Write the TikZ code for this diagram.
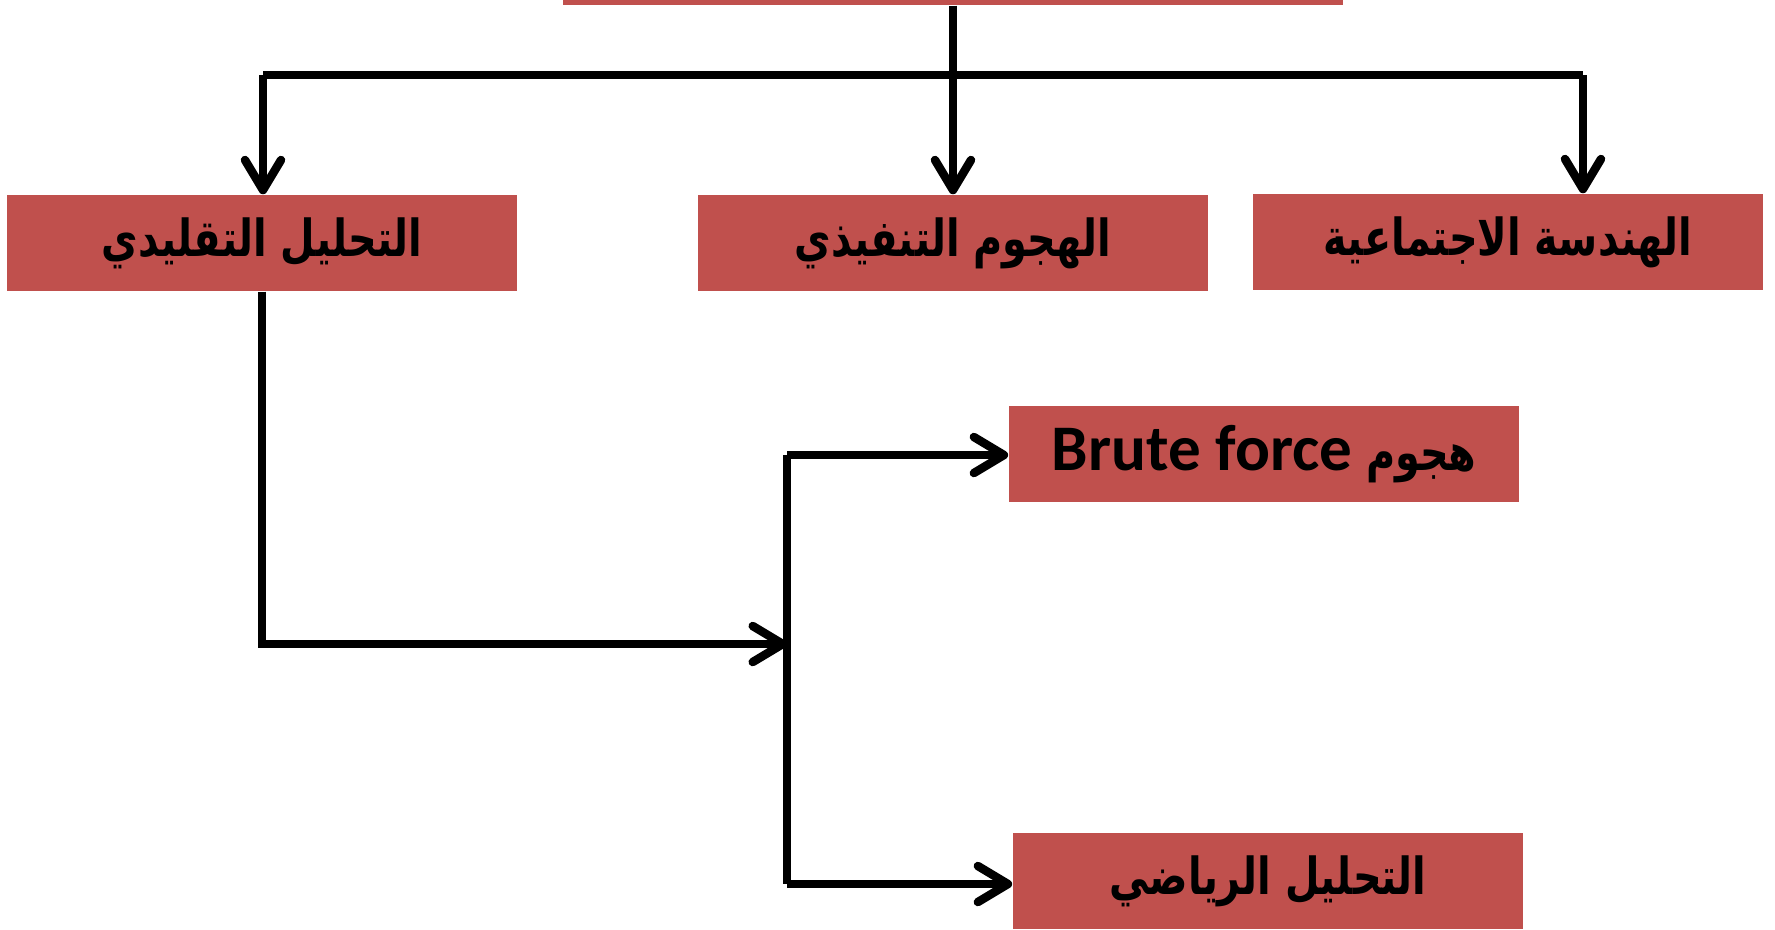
\documentclass[tikz,border=0pt]{standalone}
\usepackage{fontspec}
\usepackage{tikz}
\usetikzlibrary{arrows.meta}
\newfontfamily\arabicfont[Script=Arabic,FakeStretch=0.78]{DejaVu Sans}
\newfontfamily\latinfont{Carlito}
\TeXXeTstate=1
\definecolor{boxred}{HTML}{C0504D}

\begin{document}
\begin{tikzpicture}[x=0.01cm, y=-0.01cm,
		box_style/.style={rectangle,fill=boxred,minimum width=5.1cm,minimum height=0.96cm,inner sep=0pt,font=\arabicfont\bfseries\fontsize{14.5}{18}\selectfont},
		edge_style/.style={draw=black,line width=0.085cm},
		arrow_style/.style={edge_style,-{Straight Barb[length=0.3cm,width=0.36cm,round]}}]

		\useasboundingbox (0,0) rectangle (1775,929);

		\node[box_style,minimum width=7.8cm] (top) at (953,-43) {};
		\node[box_style] (tahlil) at (262,243) {\beginR التحليل التقليدي\endR};
		\node[box_style] (hujum) at (953,243) {\beginR الهجوم التنفيذي\endR};
		\node[box_style] (handasa) at (1508,242) {\beginR الهندسة الاجتماعية\endR};
		\node[box_style] (brute) at (1264,454) {\beginR هجوم \beginL{\latinfont\bfseries\fontsize{18.5}{20}\selectfont Brute force}\endL{}\endR};
		\node[box_style] (riyadi) at (1268,881) {\beginR التحليل الرياضي\endR};

		\coordinate (left_end) at (263,75);
		\coordinate (right_end) at (1583,75);
		\coordinate (corner) at (262,644);
		\coordinate (joint) at (787,644);
		\coordinate (fork_top) at (787,455);
		\coordinate (fork_bottom) at (787,884);

		\draw[edge_style] (left_end) -- (right_end);
		\draw[arrow_style] (top.south) -- (hujum.north);
		\draw[arrow_style] (left_end) -- (left_end |- tahlil.north);
		\draw[arrow_style] (right_end) -- (right_end |- handasa.north);
		\draw[arrow_style] (tahlil.south) -- (corner) -- (joint);
		\draw[edge_style] (fork_top) -- (fork_bottom);
		\draw[arrow_style] (fork_top) -- (brute.west |- fork_top);
		\draw[arrow_style] (fork_bottom) -- (riyadi.west |- fork_bottom);

\end{tikzpicture}
\end{document}
